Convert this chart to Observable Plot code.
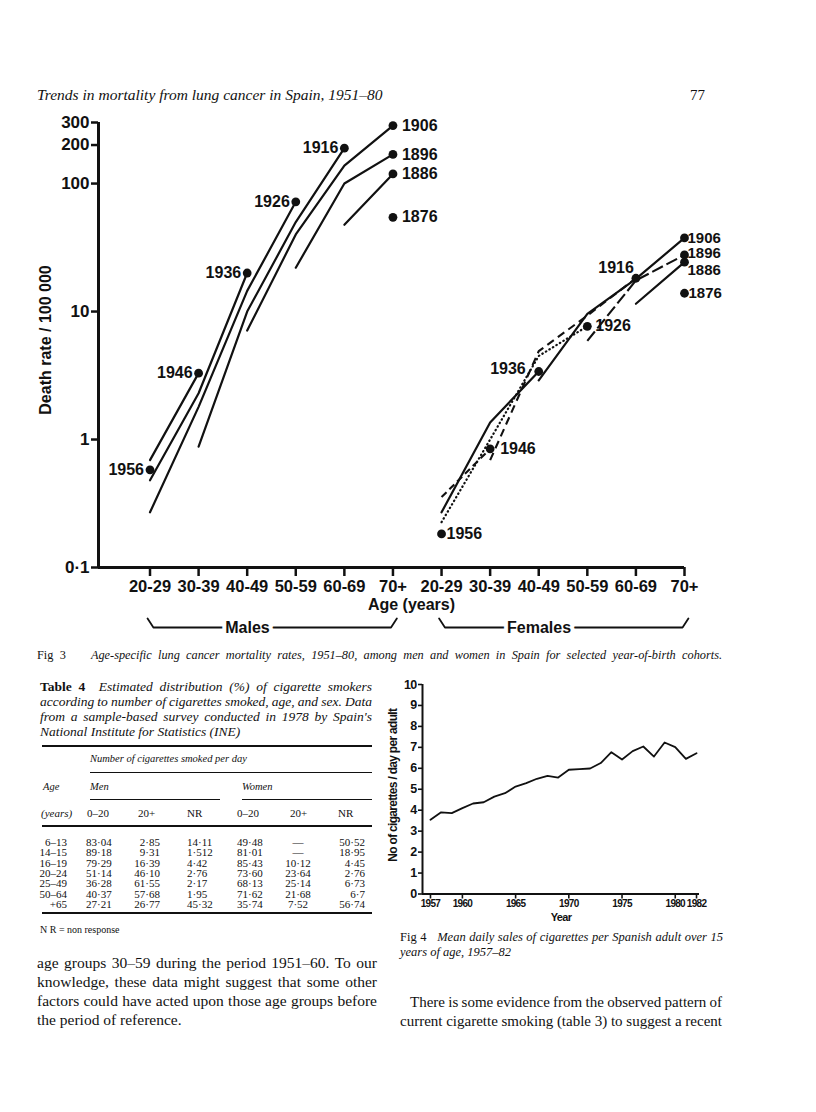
<!DOCTYPE html>
<html><head><meta charset="utf-8">
<script src="https://cdn.jsdelivr.net/npm/d3@7"></script>
<script src="https://cdn.jsdelivr.net/npm/@observablehq/plot@0.6"></script>
<style>
body{margin:0;background:#fff;}
#page{position:relative;width:816px;height:1112px;overflow:hidden;font-family:"Liberation Serif","Times New Roman",serif;color:#111;background:#fff;}
.abs{position:absolute;white-space:nowrap;line-height:1;}
.rule{position:absolute;background:#111;}
svg{position:absolute;overflow:visible;}
</style></head><body><div id="page"></div>
<script>
// ---------- Fig 3 data ----------
const ageGroups = ["20-29","30-39","40-49","50-59","60-69","70+"];
const cohorts = ["1956","1946","1936","1926","1916","1906","1896","1886","1876"];
const maleRates = [
  [0.58, null, null, null, null, null],
  [0.69, 3.3, null, null, null, null],
  [0.48, 2.3, 20, null, null, null],
  [0.27, 1.8, 14.5, 72, null, null],
  [null, 0.88, 10, 50, 189, null],
  [null, null, 7.1, 40, 138, 284],
  [null, null, null, 22, 100, 169],
  [null, null, null, null, 47.6, 119],
  [null, null, null, null, null, 54.5]
];
const femaleRates = [
  [0.183, null, null, null, null, null],
  [0.355, 0.846, null, null, null, null],
  [0.27, 1.36, 3.4, null, null, null],
  [0.226, 1.0, 4.5, 7.67, null, null],
  [null, 0.69, 4.9, 9.3, 18.2, null],
  [null, null, 2.9, 9.6, 18, 37.6],
  [null, null, null, 5.9, 17.5, 27.7],
  [null, null, null, null, 11.5, 24.3],
  [null, null, null, null, null, 13.9]
];
const sexGroups = ["Males","Females"];
const yTicks = [0.1, 1, 10, 100, 200, 300];
const yTickLabels = ["0·1","1","10","100","200","300"];

// ---------- Fig 4 data ----------
const salesYears = [1957,1958,1959,1960,1961,1962,1963,1964,1965,1966,1967,1968,1969,1970,1971,1972,1973,1974,1975,1976,1977,1978,1979,1980,1981,1982];
const salesValues = [3.54,3.9,3.86,4.1,4.32,4.38,4.65,4.81,5.13,5.29,5.5,5.64,5.56,5.93,5.96,5.99,6.25,6.77,6.42,6.82,7.04,6.56,7.23,7.01,6.45,6.72];
const fig4XTicks = [1957,1960,1965,1970,1975,1980,1982];
const fig4YTicks = [0,1,2,3,4,5,6,7,8,9,10];

// ---------- Table 4 data ----------
const tableAges = ["6–13","14–15","16–19","20–24","25–49","50–64","+65"];
const men0to20 = ["83·04","89·18","79·29","51·14","36·28","40·37","27·21"];
const men20plus = ["2·85","9·31","16·39","46·10","61·55","57·68","26·77"];
const menNR = ["14·11","1·512","4·42","2·76","2·17","1·95","45·32"];
const women0to20 = ["49·48","81·01","85·43","73·60","68·13","71·62","35·74"];
const women20plus = ["—","—","10·12","23·64","25·14","21·68","7·52"];
const womenNR = ["50·52","18·95","4·45","2·76","6·73","6·7","56·74"];

const page = document.getElementById("page");
function put(html, x, y, css = "", align = "left") {
  const d = document.createElement("div");
  d.className = "abs";
  d.innerHTML = html;
  const tx = align === "right" ? "-100%" : align === "center" ? "-50%" : "0";
  d.style.cssText = `left:${x}px;top:${y}px;transform:translate(${tx},-50%);` + css;
  page.appendChild(d);
  return d;
}
// single justified line: stretch word spacing to fill width w
function jline(html, x, y, w, css = "") {
  const d = put(html, x, y, css);
  const cur = d.getBoundingClientRect().width;
  const n = (d.textContent.match(/[ \u00a0]/g) || []).length;
  if (n > 0) d.style.wordSpacing = ((w - cur) / n) + "px";
  return d;
}
function rule(x1, x2, y, h) {
  const d = document.createElement("div");
  d.className = "rule";
  d.style.cssText = `left:${x1}px;top:${y - h / 2}px;width:${x2 - x1}px;height:${h}px;`;
  page.appendChild(d);
}

// ---------- header ----------
put("Trends in mortality from lung cancer in Spain, 1951–80", 37, 95, "font-style:italic;font-size:15.5px;");
put("77", 690, 95, "font-size:15px;");

// ---------- Fig 3 ----------
function buildRows(sex, rates, offset) {
  const out = [];
  rates.forEach((vals, c) => vals.forEach((v, a) => {
    if (v != null) out.push({sex, cohort: cohorts[c], age: ageGroups[a], pos: a + 1 + offset, rate: v});
  }));
  return out;
}
const maleRows = buildRows("M", maleRates, 0);
const femaleRows = buildRows("F", femaleRates, 6);
const ends = [];
for (const rows of [maleRows, femaleRows]) {
  for (const [, g] of d3.group(rows, d => d.cohort)) ends.push(g[g.length - 1]);
}
const femaleLabelStyle = {
  "1956": ["start", 5, 0], "1946": ["start", 10, 0], "1936": ["end", -13, -3], "1926": ["start", 8, 0],
  "1916": ["end", -2, -10], "1906": ["start", 3, 0], "1896": ["start", 3, -2], "1886": ["start", 3, 8], "1876": ["start", 4, 0]
};
function labelStyle(d) {
  if (d.sex === "F") return femaleLabelStyle[d.cohort];
  return d.age === "70+" ? ["start", 9, 0] : ["end", -6, 0];
}
const femaleDash = {"1946": "7,4", "1916": "8,5", "1896": "12,4", "1926": "0.5,3.6"};
const xDomain = [-0.06, 12];
const yDomain = [0.1, 300];
const f3 = {width: 816, height: 540, mt: 22, mb: 73};
const decadePx = (f3.height - f3.mb - f3.mt) / Math.log10(yDomain[1] / yDomain[0]);
const yBot = yDomain[0] * Math.pow(10, -60 / decadePx);
const yTop = yDomain[0] * Math.pow(10, -51 / decadePx);
const brackets = [];
sexGroups.forEach((s, i) => {
  const a = i * 6 + 1 - 0.05, b = i * 6 + 6 + 0.08;
  brackets.push({s, x: a, y: yTop}, {s, x: a + 0.12, y: yBot}, {s, x: b - 0.12, y: yBot}, {s, x: b, y: yTop});
});
const groupLabels = sexGroups.map((s, i) => ({s, x: i * 6 + 3.5}));

const femaleSolid = femaleRows.filter(d => !femaleDash[d.cohort]);
const femaleDashedMarks = Object.entries(femaleDash).map(([c, dash]) =>
  Plot.line(femaleRows.filter(d => d.cohort === c), {x: "pos", y: "rate", stroke: "#111", strokeWidth: c === "1926" ? 2.2 : 2.1, strokeDasharray: dash, strokeLinecap: c === "1926" ? "round" : "butt"}));

const fig3 = Plot.plot({
  width: f3.width, height: f3.height,
  marginLeft: 98, marginRight: 132, marginTop: f3.mt, marginBottom: f3.mb,
  style: {fontFamily: "'Liberation Sans', Arial, sans-serif", fontWeight: "bold", fontSize: "16px", color: "#111", background: "transparent", overflow: "visible"},
  x: {domain: xDomain, axis: null},
  y: {type: "log", domain: yDomain, axis: null},
  marks: [
    Plot.axisY({ticks: yTicks, tickFormat: d => yTickLabels[yTicks.indexOf(d)], tickSize: 7, tickPadding: 2, strokeWidth: 2.5, fontSize: 17, label: null}),
    Plot.axisX({ticks: d3.range(1, 13), tickFormat: i => ageGroups[(i - 1) % 6], tickSize: 9, tickPadding: 4, strokeWidth: 2.5, fontSize: 16.5, label: null}),
    Plot.ruleX([xDomain[0]], {strokeWidth: 3}),
    Plot.ruleY([yDomain[0]], {strokeWidth: 3}),
    Plot.line(maleRows, {x: "pos", y: "rate", z: "cohort", stroke: "#111", strokeWidth: 2.2}),
    Plot.line(femaleSolid, {x: "pos", y: "rate", z: "cohort", stroke: "#111", strokeWidth: 2.2}),
    ...femaleDashedMarks,
    Plot.dot(ends, {x: "pos", y: "rate", r: 4.4, fill: "#111"}),
    ...ends.map(d => { const [anchor, dx, dy] = labelStyle(d); return Plot.text([d], {x: "pos", y: "rate", text: "cohort", textAnchor: anchor, dx, dy, fontSize: d.sex === "F" && d.age === "70+" ? 15 : 16}); }),
    Plot.text(["Death rate / 100 000"], {frameAnchor: "left", textAnchor: "middle", lineAnchor: "middle", rotate: -90, dx: -53, dy: -5, fontSize: 16}),
    Plot.text(["Age (years)"], {frameAnchor: "bottom", textAnchor: "middle", lineAnchor: "middle", dx: 20, dy: 37, fontSize: 16}),
    Plot.line(brackets, {x: "x", y: "y", z: "s", stroke: "#111", strokeWidth: 1.8}),
    Plot.text(groupLabels, {x: "x", y: () => yDomain[0], text: "s", dx: -24, dy: 60, stroke: "white", strokeWidth: 8, fill: "#111", fontSize: 16})
  ]
});
fig3.style.left = "0px"; fig3.style.top = "100px";
page.appendChild(fig3);

jline("Fig 3&nbsp;&nbsp;&nbsp; <i>Age-specific lung cancer mortality rates, 1951–80, among men and women in Spain for selected year-of-birth cohorts.</i>", 37, 655, 685, "font-size:12.3px;");

// ---------- Table 4 ----------
const ttl = "font-size:13.5px;font-style:italic;";
jline("<b style='font-style:normal'>Table 4</b>&nbsp; Estimated distribution (%) of cigarette smokers", 40, 687, 332, ttl);
jline("according to number of cigarettes smoked, age, and sex. Data", 40, 702, 332, ttl);
jline("from a sample-based survey conducted in 1978 by Spain's", 40, 717, 332, ttl);
put("National Institute for Statistics (INE)", 40, 732, ttl);
rule(42, 372, 746, 1.6);
put("Number of cigarettes smoked per day", 90, 759, "font-size:10.5px;font-style:italic;");
rule(90, 372, 772, 0.9);
put("Age", 43, 787, "font-size:10.5px;font-style:italic;");
put("Men", 90, 787, "font-size:10.5px;font-style:italic;");
put("Women", 242, 787, "font-size:10.5px;font-style:italic;");
rule(90, 220, 799, 0.9);
rule(242, 372, 799, 0.9);
const hdrY = 813, tf = "font-size:11px;";
put("(years)", 41, hdrY, tf + "font-style:italic;");
put("0–20", 87, hdrY, tf); put("20+", 138, hdrY, tf); put("NR", 187, hdrY, tf);
put("0–20", 237, hdrY, tf); put("20+", 290, hdrY, tf); put("NR", 338, hdrY, tf);
rule(42, 372, 826, 1.6);
tableAges.forEach((a, i) => {
  const y = 842 + i * 10.3;
  put(a, 67, y, tf, "right");
  put(men0to20[i], 86, y, tf);
  put(men20plus[i], 160, y, tf, "right");
  put(menNR[i], 187, y, tf);
  put(women0to20[i], 237, y, tf);
  put(women20plus[i], 298, y, tf, "center");
  put(womenNR[i], 365, y, tf, "right");
});
rule(42, 372, 913, 1.6);
put("N R = non response", 40, 930, "font-size:10px;");

// ---------- Fig 4 ----------
const salesRows = salesYears.map((y, i) => ({year: y, value: salesValues[i]}));
const f4x = [1956.25, 1982.28];
const fig4 = Plot.plot({
  width: 340, height: 250, marginLeft: 42, marginRight: 21, marginTop: 14, marginBottom: 26.5,
  style: {fontFamily: "'Liberation Sans', Arial, sans-serif", fontWeight: "bold", fontSize: "12px", color: "#111", background: "transparent", overflow: "visible"},
  x: {domain: f4x, axis: null},
  y: {domain: [0, 10], axis: null},
  marks: [
    Plot.axisY({ticks: fig4YTicks, tickFormat: d => String(d), tickSize: 4, tickPadding: 2, strokeWidth: 1.6, fontSize: 12.5, label: null}),
    Plot.axisX({ticks: fig4XTicks, tickFormat: d => String(d), tickSize: 5, tickPadding: 1, strokeWidth: 1.6, fontSize: 10, label: null}),
    Plot.ruleX([f4x[0]], {strokeWidth: 2}),
    Plot.ruleY([0], {strokeWidth: 2}),
    Plot.line(salesRows, {x: "year", y: "value", stroke: "#111", strokeWidth: 1.8}),
    Plot.text(["Year"], {frameAnchor: "bottom", textAnchor: "middle", lineAnchor: "middle", dy: 23, fontSize: 11}),
    Plot.text(["No of cigarettes / day per adult"], {frameAnchor: "left", textAnchor: "middle", lineAnchor: "middle", rotate: -90, dx: -29, dy: -4, fontSize: 12})
  ]
});
fig4.style.left = "380px"; fig4.style.top = "670px"; fig4.style.letterSpacing = "-0.7px";
page.appendChild(fig4);

jline("Fig 4&nbsp;&nbsp; <i>Mean daily sales of cigarettes per Spanish adult over 15</i>", 400, 937, 323, "font-size:12.5px;");
put("<i>years of age, 1957–82</i>", 400, 952, "font-size:12.5px;");

// ---------- body text ----------
const bodyCss = "font-size:15.5px;";
jline("age groups 30–59 during the period 1951–60. To our", 37, 963, 340, bodyCss);
jline("knowledge, these data might suggest that some other", 37, 982, 340, bodyCss);
jline("factors could have acted upon those age groups before", 37, 1001, 340, bodyCss);
put("the period of reference.", 37, 1020, bodyCss);
jline("There is some evidence from the observed pattern of", 410, 1002, 312, "font-size:15px;");
jline("current cigarette smoking (table 3) to suggest a recent", 400, 1021, 322, "font-size:15px;");
</script></body></html>
